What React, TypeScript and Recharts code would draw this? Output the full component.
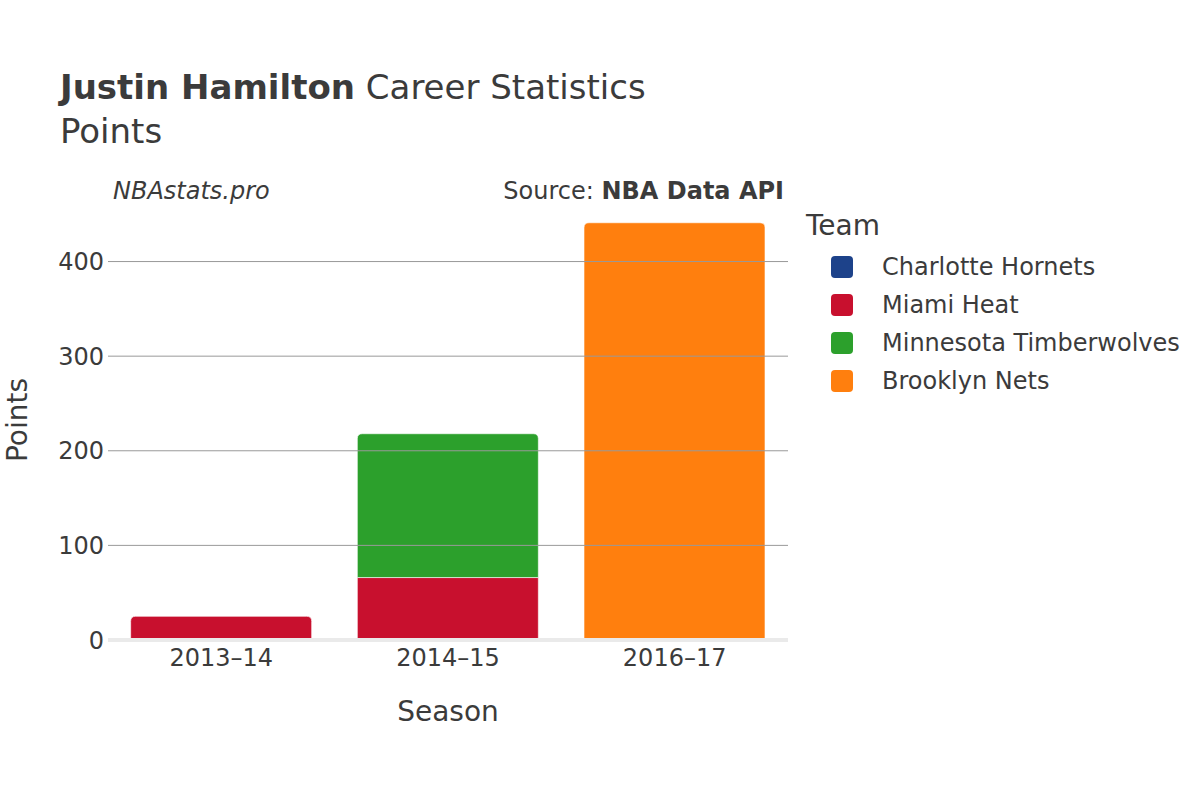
import React from 'react';
import { BarChart, Bar, XAxis, YAxis, ReferenceLine } from 'recharts';

const seasons = ['2013–14', '2014–15', '2016–17'];
const teams = ['Charlotte Hornets', 'Miami Heat', 'Minnesota Timberwolves', 'Brooklyn Nets'];
const teamColors = ['#1d428a', '#c8102e', '#2ca02c', '#ff7f0e'];

const charlottePoints = [0, 0, 0];
const miamiPoints = [25, 66, 0];
const minnesotaPoints = [0, 152, 0];
const brooklynPoints = [0, 0, 441];

const yTicks = [0, 100, 200, 300, 400];

const seriesValues = [charlottePoints, miamiPoints, minnesotaPoints, brooklynPoints];

const data = seasons.map((season, i) => {
  const row: any = { season };
  teams.forEach((team, t) => {
    row[team] = seriesValues[t][i];
  });
  return row;
});

const FONT = '"DejaVu Sans", sans-serif';
const TEXT = '#3b3b3b';

// rounded top corners only on the highest non-zero segment of each stack
const makeShape = (teamIndex: number) => (props: any) => {
  const { x, y, width, height, fill, payload } = props;
  if (!height || height <= 0) return <g />;
  let topIndex = -1;
  teams.forEach((team, t) => {
    if (payload[team] > 0) topIndex = t;
  });
  const r = teamIndex === topIndex ? Math.min(5, height) : 0;
  const d = `M${x},${y + height} L${x},${y + r} Q${x},${y} ${x + r},${y} L${x + width - r},${y} Q${x + width},${y} ${x + width},${y + r} L${x + width},${y + height} Z`;
  return <path d={d} fill={fill} stroke="#fff" strokeWidth={0.6} />;
};

export default function App() {
  return (
    <div style={{ position: 'absolute', left: 0, top: 0, width: 1200, height: 800, background: '#fff', fontFamily: FONT }}>
      <div style={{ position: 'absolute', left: 60, top: 67, fontSize: 34, color: TEXT, whiteSpace: 'nowrap' }}>
        <b>Justin Hamilton</b> Career Statistics
      </div>
      <div style={{ position: 'absolute', left: 60, top: 111, fontSize: 34, color: TEXT }}>Points</div>
      <div style={{ position: 'absolute', left: 113, top: 177, fontSize: 24, fontStyle: 'italic', color: TEXT }}>NBAstats.pro</div>
      <div style={{ position: 'absolute', right: 1200 - 784, top: 177, fontSize: 24, color: TEXT, whiteSpace: 'nowrap' }}>
        Source: <b>NBA Data API</b>
      </div>

      <div style={{ position: 'absolute', left: 806, top: 209, fontSize: 28, color: TEXT }}>Team</div>
      {teams.map((team, t) => (
        <div key={team} style={{ position: 'absolute', left: 831, top: 255 + t * 38, height: 24, display: 'flex', alignItems: 'center' }}>
          <div style={{ width: 22, height: 22, borderRadius: 4, background: teamColors[t] }} />
          <div style={{ marginLeft: 29, fontSize: 24, color: TEXT, whiteSpace: 'nowrap' }}>{team}</div>
        </div>
      ))}

      <div style={{ position: 'absolute', left: 0, top: 0 }}>
        <BarChart
          width={1200}
          height={800}
          data={data}
          margin={{ top: 201, right: 412, left: 48, bottom: 130 }}
          barCategoryGap="10%"
        >
          <XAxis
            dataKey="season"
            axisLine={false}
            tickLine={false}
            height={30}
            tick={{ fontSize: 24, fill: TEXT, fontFamily: FONT }}
            tickMargin={3}
            label={{ value: 'Season', position: 'insideBottom', offset: -51, fontSize: 28, fill: TEXT, fontFamily: FONT }}
          />
          <YAxis
            domain={[0, 464]}
            ticks={yTicks}
            axisLine={false}
            tickLine={false}
            width={60}
            tickSize={0}
            tickMargin={4}
            tick={{ fontSize: 24, fill: TEXT, fontFamily: FONT }}
          />
          {yTicks.filter((v) => v > 0).map((v) => (
            <ReferenceLine key={v} y={v} stroke="#999" strokeWidth={1} />
          ))}
          <ReferenceLine y={0} stroke="#eaeaea" strokeWidth={4} />
          {teams.map((team, t) => (
            <Bar
              key={team}
              dataKey={team}
              stackId="a"
              fill={teamColors[t]}
              isAnimationActive={false}
              shape={makeShape(t)}
            />
          ))}
        </BarChart>
      </div>

      <div style={{ position: 'absolute', left: 17, top: 420, transform: 'translate(-50%, -50%) rotate(-90deg)', fontSize: 28, color: TEXT, whiteSpace: 'nowrap' }}>
        Points
      </div>
    </div>
  );
}
